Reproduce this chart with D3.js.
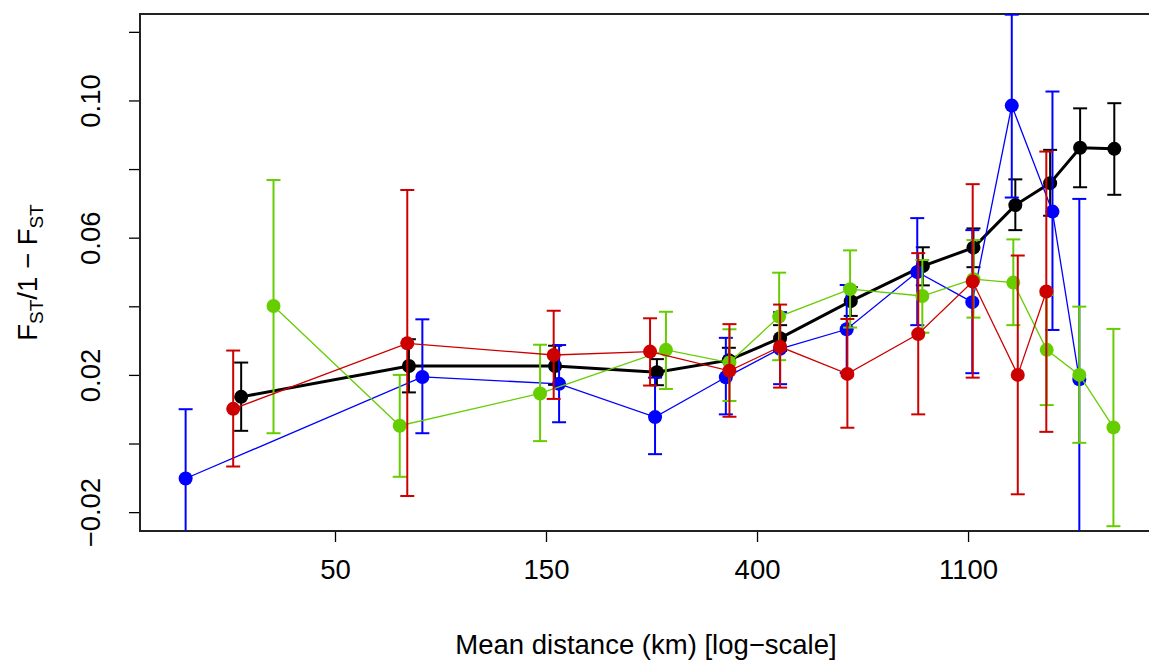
<!DOCTYPE html>
<html>
<head>
<meta charset="utf-8">
<script src="https://cdn.jsdelivr.net/npm/d3@7"></script>
<style>
  html, body { margin: 0; padding: 0; background: #ffffff; }
  svg { display: block; font-family: "Liberation Sans", Arial, sans-serif; }
</style>
</head>
<body>
<svg id="chart" width="1149" height="660"></svg>
<script>
// ---------- data ----------
const xTickPositions = [54.6, 148.4, 403.4, 1096.6];
const xTickLabels = ["50", "150", "400", "1100"];
const yTickValues = [-0.02, 0, 0.02, 0.04, 0.06, 0.08, 0.10, 0.12];
const yTickLabels = ["\u22120.02", "", "0.02", "", "0.06", "", "0.10", ""];

const allDist = [35.0, 77.5, 154.9, 251, 353, 450, 629, 885, 1125, 1372, 1618, 1865, 2193];
const allVal  = [0.0136, 0.0226, 0.0226, 0.0208, 0.0243, 0.0307, 0.0415, 0.0517, 0.0571, 0.0695, 0.0759, 0.0862, 0.0859];
const allLo   = [0.0037, 0.0149, 0.0171, 0.0170, 0.0208, 0.0270, 0.0372, 0.0461, 0.0514, 0.0622, 0.0664, 0.0747, 0.0725];
const allHi   = [0.0236, 0.0304, 0.0285, 0.0246, 0.0279, 0.0345, 0.0456, 0.0572, 0.0627, 0.0770, 0.0856, 0.0977, 0.0992];

const blueDist = [26.9, 82.6, 157.9, 248.8, 348, 450, 617, 862, 1119, 1349, 1636, 1858];
const blueVal  = [-0.0102, 0.0194, 0.0174, 0.0077, 0.0193, 0.0276, 0.0333, 0.0500, 0.0412, 0.0985, 0.0676, 0.0187];
const blueLo   = [-0.0350, 0.0030, 0.0062, -0.0031, 0.0085, 0.0173, 0.0206, 0.0345, 0.0205, 0.0717, 0.0331, -0.0350];
const blueHi   = [0.0100, 0.0362, 0.0287, 0.0192, 0.0308, 0.0383, 0.0462, 0.0657, 0.0622, 0.1250, 0.1026, 0.0713];

const greenDist = [40.8, 74.2, 144.3, 262, 354, 448, 627, 883, 1125, 1359, 1592, 1858, 2184];
const greenVal  = [0.0401, 0.0052, 0.0146, 0.0273, 0.0236, 0.0370, 0.0450, 0.0430, 0.0479, 0.0469, 0.0273, 0.0200, 0.0047];
const greenLo   = [0.0030, -0.0097, 0.0007, 0.0159, 0.0124, 0.0243, 0.0338, 0.0323, 0.0367, 0.0345, 0.0112, 0.0002, -0.0241];
const greenHi   = [0.0768, 0.0200, 0.0288, 0.0384, 0.0333, 0.0498, 0.0563, 0.0535, 0.0593, 0.0595, 0.0433, 0.0399, 0.0334];

const redDist = [33.7, 76.9, 153.9, 243, 354, 450, 619, 866, 1121, 1388, 1589];
const redVal  = [0.0101, 0.0292, 0.0258, 0.0268, 0.0212, 0.0282, 0.0203, 0.0319, 0.0472, 0.0200, 0.0443];
const redLo   = [-0.0067, -0.0153, 0.0130, 0.0169, 0.0078, 0.0163, 0.0046, 0.0085, 0.0192, -0.0148, 0.0034];
const redHi   = [0.0271, 0.0739, 0.0387, 0.0365, 0.0348, 0.0405, 0.0363, 0.0555, 0.0756, 0.0548, 0.0851];

const seriesColors = { all: "#000000", blue: "#0000FF", green: "#66CD00", red: "#CD0000" };

// ---------- layout ----------
const svg = d3.select("#chart");
const plot = { left: 140, right: 1152, top: 14, bottom: 531 };
const fontSize = 27.5;

const x = d3.scaleLog().domain([21.67, 2622]).range([plot.left, plot.right]);
const y = d3.scaleLinear().domain([-0.0255, 0.1252]).range([plot.bottom, plot.top]);

svg.append("defs").append("clipPath").attr("id", "clip")
  .append("rect").attr("x", plot.left).attr("y", plot.top)
  .attr("width", plot.right - plot.left).attr("height", plot.bottom - plot.top);

// ---------- axes ----------
const xAxis = d3.axisBottom(x).tickValues(xTickPositions)
  .tickFormat((d, i) => xTickLabels[i]).tickSizeInner(11).tickSizeOuter(0).tickPadding(17);
const gx = svg.append("g").attr("transform", `translate(0,${plot.bottom})`).call(xAxis);
gx.select(".domain").remove();
gx.selectAll("line").attr("stroke", "#000").attr("stroke-width", 1.3);
gx.selectAll("text").attr("font-size", fontSize).attr("fill", "#000")
  .attr("font-family", "Liberation Sans, Arial, sans-serif");

const yAxis = d3.axisLeft(y).tickValues(yTickValues)
  .tickFormat((d, i) => yTickLabels[i]).tickSizeInner(11).tickSizeOuter(0);
const gy = svg.append("g").attr("transform", `translate(${plot.left},0)`).call(yAxis);
gy.select(".domain").remove();
gy.selectAll("line").attr("stroke", "#000").attr("stroke-width", 1.3);
gy.selectAll("text")
  .attr("font-size", fontSize).attr("fill", "#000")
  .attr("font-family", "Liberation Sans, Arial, sans-serif")
  .attr("text-anchor", "middle").attr("dy", null).attr("x", null)
  .attr("transform", d => `translate(${-40},${0}) rotate(-90)`);

// box
svg.append("rect").attr("x", plot.left).attr("y", plot.top)
  .attr("width", plot.right - plot.left).attr("height", plot.bottom - plot.top)
  .attr("fill", "none").attr("stroke", "#222").attr("stroke-width", 2);

// axis titles
svg.append("text").attr("x", 646).attr("y", 654)
  .attr("text-anchor", "middle").attr("font-size", fontSize).attr("fill", "#000")
  .text("Mean distance (km) [log\u2212scale]");

const yt = svg.append("text").attr("transform", `translate(37,${(plot.top + plot.bottom) / 2}) rotate(-90)`)
  .attr("text-anchor", "middle").attr("font-size", fontSize).attr("fill", "#000");
yt.append("tspan").text("F");
yt.append("tspan").attr("font-size", 19).attr("dy", 6).text("ST");
yt.append("tspan").attr("dy", -6).text("/1 \u2212 F");
yt.append("tspan").attr("font-size", 19).attr("dy", 6).text("ST");

// ---------- series ----------
function drawSeries(dist, val, lo, hi, color, lineW) {
  const data = dist.map((d, i) => ({ d, v: val[i], lo: lo[i], hi: hi[i] }));
  const g = svg.append("g").attr("clip-path", "url(#clip)");
  const capW = 7;
  data.forEach(p => {
    g.append("line").attr("x1", x(p.d)).attr("x2", x(p.d)).attr("y1", y(p.lo)).attr("y2", y(p.hi))
      .attr("stroke", color).attr("stroke-width", 2);
    [p.lo, p.hi].forEach(c => {
      g.append("line").attr("x1", x(p.d) - capW).attr("x2", x(p.d) + capW)
        .attr("y1", y(c)).attr("y2", y(c)).attr("stroke", color).attr("stroke-width", 2);
    });
  });
  g.append("path").datum(data)
    .attr("d", d3.line().x(p => x(p.d)).y(p => y(p.v)))
    .attr("fill", "none").attr("stroke", color).attr("stroke-width", lineW);
  g.selectAll("circle.pt").data(data).enter().append("circle")
    .attr("cx", p => x(p.d)).attr("cy", p => y(p.v)).attr("r", 7).attr("fill", color);
}

drawSeries(allDist, allVal, allLo, allHi, seriesColors.all, 3);
drawSeries(blueDist, blueVal, blueLo, blueHi, seriesColors.blue, 1.3);
drawSeries(greenDist, greenVal, greenLo, greenHi, seriesColors.green, 1.3);
drawSeries(redDist, redVal, redLo, redHi, seriesColors.red, 1.3);
</script>
</body>
</html>
